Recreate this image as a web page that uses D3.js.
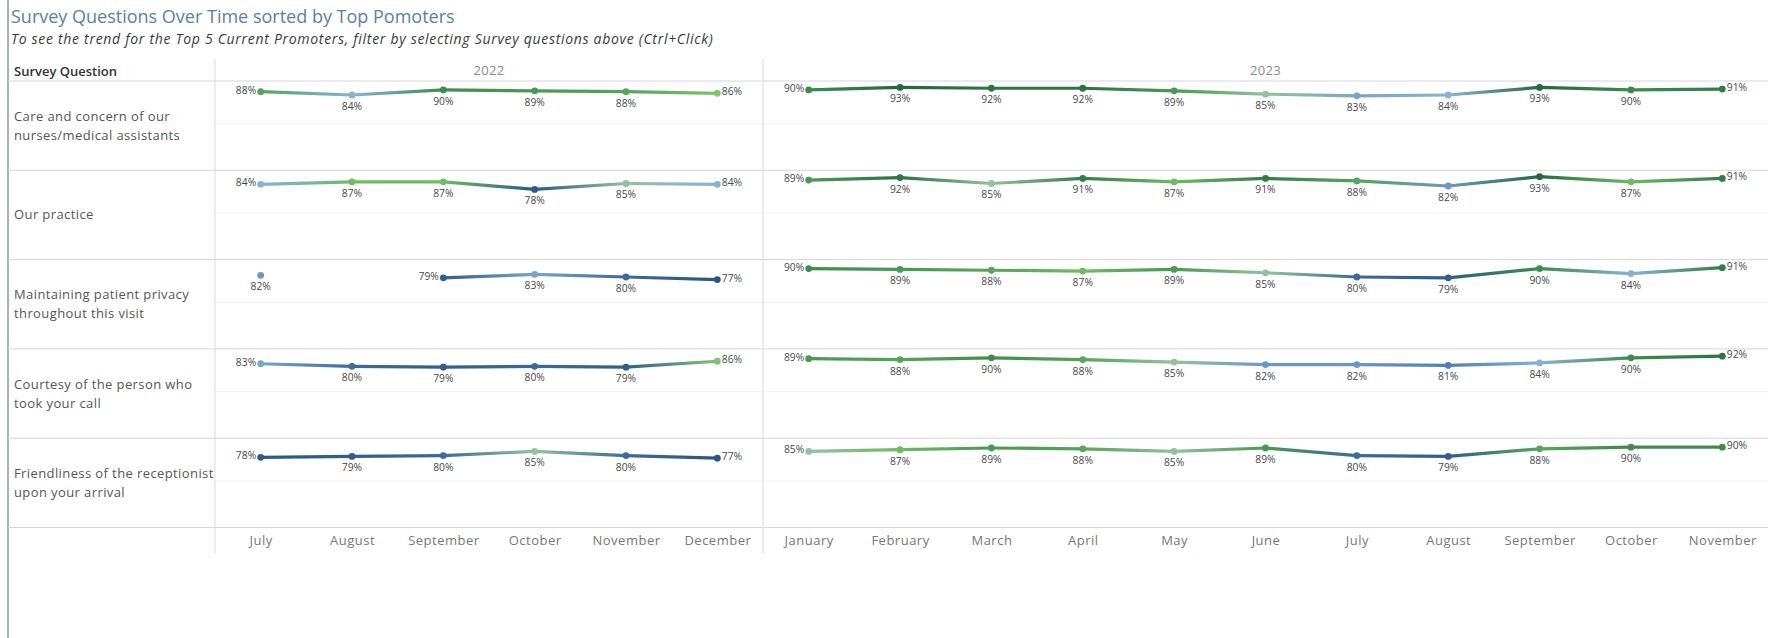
<!DOCTYPE html>
<html>
<head>
<meta charset="utf-8">
<script src="https://cdn.jsdelivr.net/npm/d3@7"></script>
<style>
  html, body { margin: 0; padding: 0; background: #fff; }
  svg { display: block; font-family: "Open Sans", "Noto Sans", sans-serif; }
</style>
</head>
<body>
<svg id="chart" width="1768" height="638"></svg>
<script>
// Survey questions (row headers), split into display lines
const questions = [
  "Care and concern of our nurses/medical assistants",
  "Our practice",
  "Maintaining patient privacy throughout this visit",
  "Courtesy of the person who took your call",
  "Friendliness of the receptionist upon your arrival"
];
const questionLines = [
  ["Care and concern of our", "nurses/medical assistants"],
  ["Our practice"],
  ["Maintaining patient privacy", "throughout this visit"],
  ["Courtesy of the person who", "took your call"],
  ["Friendliness of the receptionist", "upon your arrival"]
];

const years = ["2022", "2023"];
const months2022 = ["July", "August", "September", "October", "November", "December"];
const months2023 = ["January", "February", "March", "April", "May", "June", "July", "August", "September", "October", "November"];

// Promoter share (%) per question, one array per question
const values2022 = [
  [88, 84, 90, 89, 88, 86],
  [84, 87, 87, 78, 85, 84],
  [82, null, 79, 83, 80, 77],
  [83, 80, 79, 80, 79, 86],
  [78, 79, 80, 85, 80, 77]
];
const values2023 = [
  [90, 93, 92, 92, 89, 85, 83, 84, 93, 90, 91],
  [89, 92, 85, 91, 87, 91, 88, 82, 93, 87, 91],
  [90, 89, 88, 87, 89, 85, 80, 79, 90, 84, 91],
  [89, 88, 90, 88, 85, 82, 82, 81, 84, 90, 92],
  [85, 87, 89, 88, 85, 89, 80, 79, 88, 90, 90]
];

// Green-blue diverging colour ramp keyed on the value
const colorStops = [77, 79, 80, 81, 82, 84, 85, 86, 87, 88, 89, 90, 91, 93];
const colorRange = ["#2a5580", "#2f5f8b", "#3a6b9a", "#4f80b0", "#6a98c3", "#88b2d5", "#93c29c",
                    "#7cc46e", "#6dbb62", "#55a55a", "#489a52", "#3d8c4c", "#337d45", "#246a3c"];
const color = d3.scaleLinear().domain(colorStops).range(colorRange).interpolate(d3.interpolateRgb).clamp(true);

const svg = d3.select("#chart");
const W = 1768;
const leftX = 8, colX = 215, splitX = 763, rightX = W;
const headerY = 81, rowH = 89.3;
const rowTop = i => headerY + i * rowH;

const x2022 = d3.scalePoint().domain(months2022).range([colX, splitX]).padding(0.5);
const x2023 = d3.scalePoint().domain(months2023).range([splitX, rightX]).padding(0.5);
const panes = [
  { year: years[0], x: x2022, x0: colX, x1: splitX, data: values2022 },
  { year: years[1], x: x2023, x0: splitX, x1: rightX, data: values2023 }
];

const yFor = i => d3.scaleLinear().domain([0, 1]).range([rowTop(i) + 85, rowTop(i) + 0.5]);

// Title block
svg.append("text").attr("x", 11).attr("y", 23)
  .attr("font-size", 18).attr("fill", "#5a7fa8")
  .text("Survey Questions Over Time sorted by Top Pomoters");
svg.append("text").attr("x", 11).attr("y", 44)
  .attr("font-size", 14).attr("letter-spacing", 0.7).attr("font-style", "italic").attr("fill", "#3a3a3a")
  .text("To see the trend for the Top 5 Current Promoters, filter by selecting Survey questions above (Ctrl+Click)");

// Left frame line
svg.append("line").attr("x1", leftX).attr("x2", leftX).attr("y1", 0).attr("y2", 638)
  .attr("stroke", "#8299b5").attr("stroke-width", 1.5);

// Headers
svg.append("text").attr("x", 14).attr("y", 76)
  .attr("font-size", 13).attr("font-weight", 600).attr("fill", "#333")
  .text("Survey Question");
panes.forEach(p => {
  svg.append("text").attr("x", (p.x0 + p.x1) / 2).attr("y", 75)
    .attr("text-anchor", "middle").attr("font-size", 13).attr("letter-spacing", 0.3).attr("fill", "#8a8a8a")
    .text(p.year);
});

// Mid-row gridlines at 50%
questions.forEach((q, i) => {
  const y = yFor(i);
  svg.append("line").attr("x1", colX).attr("x2", rightX)
    .attr("y1", y(0.5)).attr("y2", y(0.5))
    .attr("stroke", "#f0f0f0").attr("stroke-width", 1);
});

// Row separators
d3.range(questions.length + 1).forEach(k => {
  svg.append("line").attr("x1", leftX).attr("x2", rightX)
    .attr("y1", rowTop(k)).attr("y2", rowTop(k))
    .attr("stroke", "#d6d6d6").attr("stroke-width", 1);
});

// Pane dividers
[colX, splitX].forEach(xv => {
  svg.append("line").attr("x1", xv).attr("x2", xv).attr("y1", 59).attr("y2", 553)
    .attr("stroke", "#d9d9d9").attr("stroke-width", 1);
});

// Row header labels
questionLines.forEach((lines, i) => {
  const cy = rowTop(i) + rowH / 2;
  const lh = 19;
  lines.forEach((ln, j) => {
    svg.append("text").attr("x", 14)
      .attr("y", cy + (j - (lines.length - 1) / 2) * lh + 4.5)
      .attr("font-size", 13).attr("letter-spacing", 0.4).attr("fill", "#555")
      .text(ln);
  });
});

// Month axes
panes.forEach(p => {
  const g = svg.append("g").attr("transform", `translate(0,${rowTop(questions.length) + 8.5})`)
    .call(d3.axisBottom(p.x).tickSize(0).tickPadding(0));
  g.select(".domain").remove();
  g.selectAll("text").attr("font-size", 13).attr("letter-spacing", 0.5).attr("fill", "#777")
    .attr("font-family", "'Open Sans', sans-serif").attr("dy", "0.71em");
});

// Lines, points and value labels
const defs = svg.append("defs");
let gid = 0;
const fmt = v => v + "%";
panes.forEach(p => {
  const months = p.x.domain();
  p.data.forEach((vals, i) => {
    const y = yFor(i);
    const pts = vals.map((v, k) => v == null ? null : { x: p.x(months[k]), y: y(v / 100), v: v, k: k });
    const g = svg.append("g");
    // gradient segments
    for (let k = 0; k < pts.length - 1; k++) {
      const a = pts[k], b = pts[k + 1];
      if (!a || !b) continue;
      const id = "seg" + (gid++);
      const lg = defs.append("linearGradient").attr("id", id)
        .attr("gradientUnits", "userSpaceOnUse")
        .attr("x1", a.x).attr("y1", a.y).attr("x2", b.x).attr("y2", b.y);
      lg.append("stop").attr("offset", "0%").attr("stop-color", color(a.v));
      lg.append("stop").attr("offset", "100%").attr("stop-color", color(b.v));
      g.append("line").attr("x1", a.x).attr("y1", a.y).attr("x2", b.x).attr("y2", b.y)
        .attr("stroke", `url(#${id})`).attr("stroke-width", 3.2).attr("stroke-linecap", "round");
    }
    pts.forEach((d, k) => {
      if (!d) return;
      g.append("circle").attr("cx", d.x).attr("cy", d.y).attr("r", 3.4).attr("fill", color(d.v));
      const prev = k > 0 && pts[k - 1];
      const next = k < pts.length - 1 && pts[k + 1];
      let tx = d.x, ty = d.y + 15, anchor = "middle";
      if (!prev && next) { tx = d.x - 4.5; ty = d.y + 2; anchor = "end"; }
      else if (prev && !next) { tx = d.x + 4.5; ty = d.y + 2; anchor = "start"; }
      g.append("text").attr("x", tx).attr("y", ty).attr("text-anchor", anchor)
        .attr("font-size", 10.3).attr("fill", "#4a4a4a").text(fmt(d.v));
    });
  });
});
</script>
</body>
</html>
